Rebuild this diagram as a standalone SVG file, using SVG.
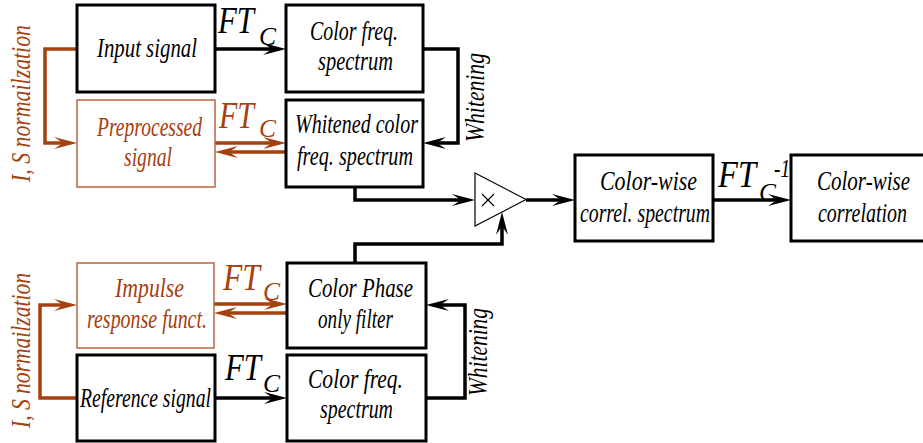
<svg xmlns="http://www.w3.org/2000/svg" width="923" height="443" viewBox="0 0 923 443">
  <style>
    .box { fill: #ffffff; stroke: #000000; stroke-width: 3; }
    .pbox { fill: #ffffff; stroke: #b9643c; stroke-width: 1.5; }
    .t { font-family: "Liberation Serif", "Times New Roman", serif; font-style: italic; font-size: 27px; fill: #000000; }
    .tb { fill: #a5400f; }
    .ft { font-family: "Liberation Serif", "Times New Roman", serif; font-style: italic; font-size: 37px; }
    .sub { font-family: "Liberation Serif", "Times New Roman", serif; font-style: italic; font-size: 26px; }
    .rot { font-family: "Liberation Serif", "Times New Roman", serif; font-style: italic; font-size: 27px; }
    .w { stroke: #000000; stroke-width: 3.5; fill: none; }
    .wb { stroke: #a5400f; stroke-width: 3.5; fill: none; }
    .ak { marker-end: url(#ah); }
    .abr { marker-end: url(#ahb); }
  </style>
  <defs>
    <marker id="ah" viewBox="-24 -8 26 16" refX="-10" refY="0" markerWidth="26" markerHeight="16" markerUnits="userSpaceOnUse" orient="auto">
      <path d="M0,0 L-23,-6 L-14,0 L-23,6 Z" fill="#000000"/>
    </marker>
    <marker id="ahb" viewBox="-24 -8 26 16" refX="-10" refY="0" markerWidth="26" markerHeight="16" markerUnits="userSpaceOnUse" orient="auto">
      <path d="M0,0 L-23,-6 L-14,0 L-23,6 Z" fill="#a5400f"/>
    </marker>
  </defs>

  <!-- connectors -->
  <g id="connectors">
    <!-- upper chain -->
    <path class="w ak" d="M215,49 H276"/>
    <path class="w ak" d="M423,49 H458 V143 H433"/>
    <path class="wb abr" d="M77,49 H45 V143 H67"/>
    <path class="wb abr" d="M215,143 H276"/>
    <path class="wb abr" d="M286,152 H225"/>
    <!-- lower chain -->
    <path class="w ak" d="M215,398 H277"/>
    <path class="w ak" d="M426,398 H465 V305 H436"/>
    <path class="wb abr" d="M77,398 H40 V305 H67"/>
    <path class="wb abr" d="M214,304 H277"/>
    <path class="wb abr" d="M287,313 H224"/>
    <!-- into the multiplier -->
    <path class="w ak" d="M355,187 V200 H465"/>
    <path class="w ak" d="M355,263 V244 H502 V222"/>
    <!-- multiplier output and inverse transform -->
    <path class="w ak" d="M526,200 H565"/>
    <path class="w ak" d="M713,200 H781"/>
  </g>

  <!-- transform labels -->
  <g id="ft-labels">
    <text class="ft" x="218" y="33" textLength="36" lengthAdjust="spacingAndGlyphs">FT</text>
    <text class="sub" x="259" y="45" textLength="17" lengthAdjust="spacingAndGlyphs">C</text>
    <text class="ft tb" x="219" y="128" textLength="35" lengthAdjust="spacingAndGlyphs">FT</text>
    <text class="sub tb" x="259" y="137" textLength="17" lengthAdjust="spacingAndGlyphs">C</text>
    <text class="ft tb" x="223" y="290" textLength="37" lengthAdjust="spacingAndGlyphs">FT</text>
    <text class="sub tb" x="263" y="300" textLength="17" lengthAdjust="spacingAndGlyphs">C</text>
    <text class="ft" x="225" y="380" textLength="36" lengthAdjust="spacingAndGlyphs">FT</text>
    <text class="sub" x="263" y="392" textLength="17" lengthAdjust="spacingAndGlyphs">C</text>
    <text class="ft" x="718" y="187" textLength="38" lengthAdjust="spacingAndGlyphs">FT</text>
    <text class="sub" x="759" y="201" textLength="17" lengthAdjust="spacingAndGlyphs">C</text>
    <text class="sub" x="774" y="177" textLength="16" lengthAdjust="spacingAndGlyphs">-1</text>
  </g>

  <!-- side labels -->
  <g id="side-labels">
    <text class="rot tb" transform="translate(30,182) rotate(-90)" textLength="157" lengthAdjust="spacingAndGlyphs">I, S normailzation</text>
    <text class="rot tb" transform="translate(30,428) rotate(-90)" textLength="155" lengthAdjust="spacingAndGlyphs">I, S normailzation</text>
    <text class="rot" transform="translate(484,142) rotate(-90)" textLength="89" lengthAdjust="spacingAndGlyphs">Whitening</text>
    <text class="rot" transform="translate(487,396) rotate(-90)" textLength="88" lengthAdjust="spacingAndGlyphs">Whitening</text>
  </g>

  <g id="input-signal">
    <rect class="box" x="77" y="5" width="138" height="87"/>
    <text class="t" x="97" y="57" textLength="100" lengthAdjust="spacingAndGlyphs">Input signal</text>
  </g>

  <g id="color-freq-spectrum-top">
    <rect class="box" x="286" y="5" width="137" height="87"/>
    <text class="t" x="310" y="40" textLength="88" lengthAdjust="spacingAndGlyphs">Color freq.</text>
    <text class="t" x="318" y="70" textLength="75" lengthAdjust="spacingAndGlyphs">spectrum</text>
  </g>

  <g id="preprocessed-signal">
    <rect class="pbox" x="77" y="100" width="138" height="87"/>
    <text class="t tb" x="97" y="136" textLength="105" lengthAdjust="spacingAndGlyphs">Preprocessed</text>
    <text class="t tb" x="124" y="166" textLength="48" lengthAdjust="spacingAndGlyphs">signal</text>
  </g>

  <g id="whitened-spectrum">
    <rect class="box" x="286" y="100" width="137" height="87"/>
    <text class="t" x="295" y="133" textLength="123" lengthAdjust="spacingAndGlyphs">Whitened color</text>
    <text class="t" x="297" y="165" textLength="116" lengthAdjust="spacingAndGlyphs">freq. spectrum</text>
  </g>

  <g id="impulse-response">
    <rect class="pbox" x="77" y="263" width="137" height="85"/>
    <text class="t tb" x="115" y="297" textLength="69" lengthAdjust="spacingAndGlyphs">Impulse</text>
    <text class="t tb" x="87" y="328" textLength="120" lengthAdjust="spacingAndGlyphs">response funct.</text>
  </g>

  <g id="phase-only-filter">
    <rect class="box" x="287" y="263" width="139" height="85"/>
    <text class="t" x="308" y="297" textLength="105" lengthAdjust="spacingAndGlyphs">Color Phase</text>
    <text class="t" x="318" y="328" textLength="75" lengthAdjust="spacingAndGlyphs">only filter</text>
  </g>

  <g id="reference-signal">
    <rect class="box" x="77" y="355" width="138" height="86"/>
    <text class="t" x="80" y="407" textLength="131" lengthAdjust="spacingAndGlyphs">Reference signal</text>
  </g>

  <g id="color-freq-spectrum-bottom">
    <rect class="box" x="287" y="355" width="139" height="86"/>
    <text class="t" x="308" y="388" textLength="95" lengthAdjust="spacingAndGlyphs">Color  freq.</text>
    <text class="t" x="320" y="418" textLength="73" lengthAdjust="spacingAndGlyphs">spectrum</text>
  </g>

  <g id="multiplier">
    <path d="M475,173 L526,199.5 L475,226 Z" fill="#ffffff" stroke="#000000" stroke-width="1.2"/>
    <path d="M482,194 L494,206 M494,194 L482,206" stroke="#000000" stroke-width="1.2"/>
  </g>

  <g id="correlation-spectrum">
    <rect class="box" x="575" y="155" width="138" height="86"/>
    <text class="t" x="600" y="190" textLength="97" lengthAdjust="spacingAndGlyphs">Color-wise</text>
    <text class="t" x="580" y="222" textLength="130" lengthAdjust="spacingAndGlyphs">correl. spectrum</text>
  </g>

  <g id="correlation">
    <rect class="box" x="791" y="155" width="134" height="86"/>
    <text class="t" x="817" y="190" textLength="93" lengthAdjust="spacingAndGlyphs">Color-wise</text>
    <text class="t" x="818" y="222" textLength="89" lengthAdjust="spacingAndGlyphs">correlation</text>
  </g>
</svg>
